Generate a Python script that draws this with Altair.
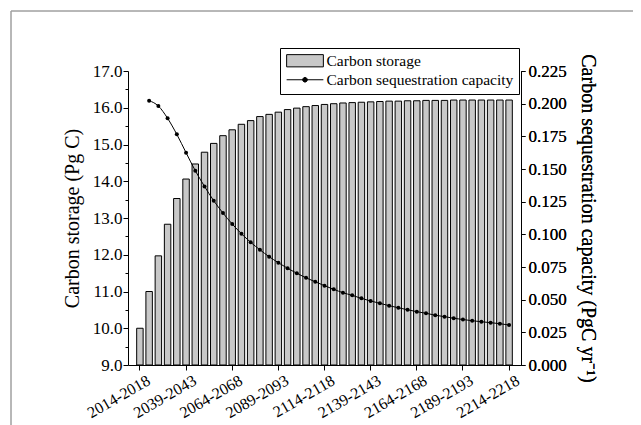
import altair as alt
import pandas as pd

periods = [
    "2014-2018", "2019-2023", "2024-2028", "2029-2033", "2034-2038",
    "2039-2043", "2044-2048", "2049-2053", "2054-2058", "2059-2063",
    "2064-2068", "2069-2073", "2074-2078", "2079-2083", "2084-2088",
    "2089-2093", "2094-2098", "2099-2103", "2104-2108", "2109-2113",
    "2114-2118", "2119-2123", "2124-2128", "2129-2133", "2134-2138",
    "2139-2143", "2144-2148", "2149-2153", "2154-2158", "2159-2163",
    "2164-2168", "2169-2173", "2174-2178", "2179-2183", "2184-2188",
    "2189-2193", "2194-2198", "2199-2203", "2204-2208", "2209-2213",
    "2214-2218",
]

tick_periods = [
    "2014-2018", "2039-2043", "2064-2068", "2089-2093", "2114-2118",
    "2139-2143", "2164-2168", "2189-2193", "2214-2218",
]

storage = [
    10.00, 11.00, 11.97, 12.83, 13.53, 14.06, 14.47, 14.79, 15.03, 15.24,
    15.40, 15.55, 15.65, 15.76, 15.82, 15.88, 15.95, 15.99, 16.03, 16.06,
    16.09, 16.11, 16.13, 16.14, 16.15, 16.16, 16.17, 16.18, 16.18, 16.19,
    16.19, 16.20, 16.20, 16.20, 16.21, 16.21, 16.21, 16.21, 16.21, 16.21,
    16.21,
]

capacity_periods = periods[1:]
capacity = [
    0.2023, 0.1982, 0.1888, 0.1765, 0.1625, 0.1487, 0.1367, 0.1257, 0.1163, 0.1079,
    0.1005, 0.0939, 0.0882, 0.0829, 0.0783, 0.0740, 0.0702, 0.0667, 0.0637, 0.0607,
    0.0579, 0.0553, 0.0533, 0.0510, 0.0490, 0.0472, 0.0454, 0.0438, 0.0423, 0.0408,
    0.0396, 0.0381, 0.0370, 0.0358, 0.0348, 0.0339, 0.0331, 0.0324, 0.0316, 0.0306,
]

series_names = ["Carbon storage", "Carbon sequestration capacity"]
left_ticks = [9.0 + 0.5 * i for i in range(17)]
right_ticks = [0.0, 0.025, 0.05, 0.075, 0.1, 0.125, 0.15, 0.175, 0.2, 0.225]
storage_base = 9.0

FONT = "Liberation Serif"

bar_df = pd.DataFrame({"period": periods, "storage": storage, "base": storage_base})
line_df = pd.DataFrame({"period": capacity_periods, "capacity": capacity})
legend_df = pd.DataFrame({"series": series_names})

x_scale = alt.Scale(domain=periods, paddingInner=0.3, paddingOuter=0.94)
x_axis = alt.Axis(
    values=tick_periods,
    labelAngle=-30,
    labelAlign="right",
    labelBaseline="top",
    labelPadding=2,
    labelOffset=5,
    tickSize=5,
    bandPosition=0.5,
    labelFont=FONT,
    labelFontSize=16,
    labelOverlap=False,
)
x_enc = alt.X("period:N", sort=None, scale=x_scale, title=None, axis=x_axis)

bars = alt.Chart(bar_df).mark_bar(
    color="#c8c8c8", stroke="black", strokeWidth=1
).encode(
    x=x_enc,
    y=alt.Y(
        "storage:Q",
        scale=alt.Scale(domain=[9, 17], zero=False, nice=False),
        title="Carbon storage (Pg C)",
        axis=alt.Axis(
            values=left_ticks,
            labelExpr="datum.value % 1 == 0 ? format(datum.value, '.1f') : ''",
            tickSize={"condition": {"test": "datum.value % 1 != 0", "value": 3}, "value": 5},
            labelPadding=1,
            titlePadding=10,
            labelFont=FONT,
            labelFontSize=17,
            labelOverlap=False,
        ),
    ),
    y2="base:Q",
)

y_right = alt.Y(
    "capacity:Q",
    scale=alt.Scale(domain=[0, 0.225], nice=False),
    title="Carbon sequestration capacity (PgC yr\u207b\u00b9)",
    axis=alt.Axis(
        orient="right",
        values=right_ticks,
        format=".3f",
        tickSize=4,
        labelPadding=3,
        titlePadding=11,
        labelFont=FONT,
        labelFontSize=17,
        labelOverlap=False,
    ),
)

x_line = alt.X("period:N", sort=None, scale=x_scale, title=None, axis=x_axis)

line = alt.Chart(line_df).mark_line(
    color="black", strokeWidth=1, interpolate="monotone"
).encode(x=x_line, y=y_right)

points = alt.Chart(line_df).mark_point(
    filled=True, color="black", size=16, opacity=1
).encode(x=x_line, y=y_right)

rect_path = "M-1,-1H5V1H-1Z"
line_path = "M-1,0H5M1.62,0A0.38,0.38 0 1,0 2.38,0A0.38,0.38 0 1,0 1.62,0Z"

legend_props = dict(
    orient="none",
    legendX=152,
    legendY=-23,
    title=None,
    strokeColor="black",
    fillColor="white",
    padding=5,
    labelFont=FONT,
    labelFontSize=15.5,
    labelColor="black",
    labelOffset=26,
    labelLimit=400,
    symbolSize=150,
    symbolStrokeColor="black",
    symbolStrokeWidth=1,
    symbolOpacity=1,
    rowPadding=2,
    cornerRadius=0,
)

legend_layer = alt.Chart(legend_df).mark_point(
    filled=True, opacity=0
).encode(
    fill=alt.Fill(
        "series:N",
        sort=None,
        scale=alt.Scale(domain=series_names, range=["#c8c8c8", "#000000"]),
        legend=alt.Legend(**legend_props),
    ),
    stroke=alt.Stroke(
        "series:N",
        sort=None,
        scale=alt.Scale(domain=series_names, range=["#000000", "#000000"]),
        legend=alt.Legend(**legend_props),
    ),
    shape=alt.Shape(
        "series:N",
        sort=None,
        scale=alt.Scale(domain=series_names, range=[rect_path, line_path]),
        legend=alt.Legend(**legend_props),
    ),
)

frame_v = alt.Chart(legend_df).mark_rule(color="#a0a0a0", strokeWidth=1).encode(
    x=alt.value(-117), y=alt.value(-60), y2=alt.value(360)
)
frame_h = alt.Chart(legend_df).mark_rule(color="#a0a0a0", strokeWidth=1).encode(
    x=alt.value(-117), x2=alt.value(520), y=alt.value(-60)
)

chart = (
    alt.layer(bars, line, points, legend_layer, frame_v, frame_h)
    .resolve_scale(y="independent")
    .properties(
        width=393,
        height=294,
        padding={"left": 120, "top": 63, "right": 112, "bottom": 60},
        autosize=alt.AutoSizeParams(type="none"),
        background="white",
    )
    .configure(font=FONT)
    .configure_view(stroke=None)
    .configure_axis(
        labelFont=FONT,
        titleFont=FONT,
        labelColor="black",
        titleColor="black",
        titleFontSize=20,
        titleFontWeight="normal",
        domainColor="black",
        tickColor="black",
        domainWidth=1,
        tickWidth=1,
        grid=False,
    )
    .configure_legend(labelFont=FONT)
)

chart.save("out.html", embed_options={"renderer": "svg", "actions": False})
